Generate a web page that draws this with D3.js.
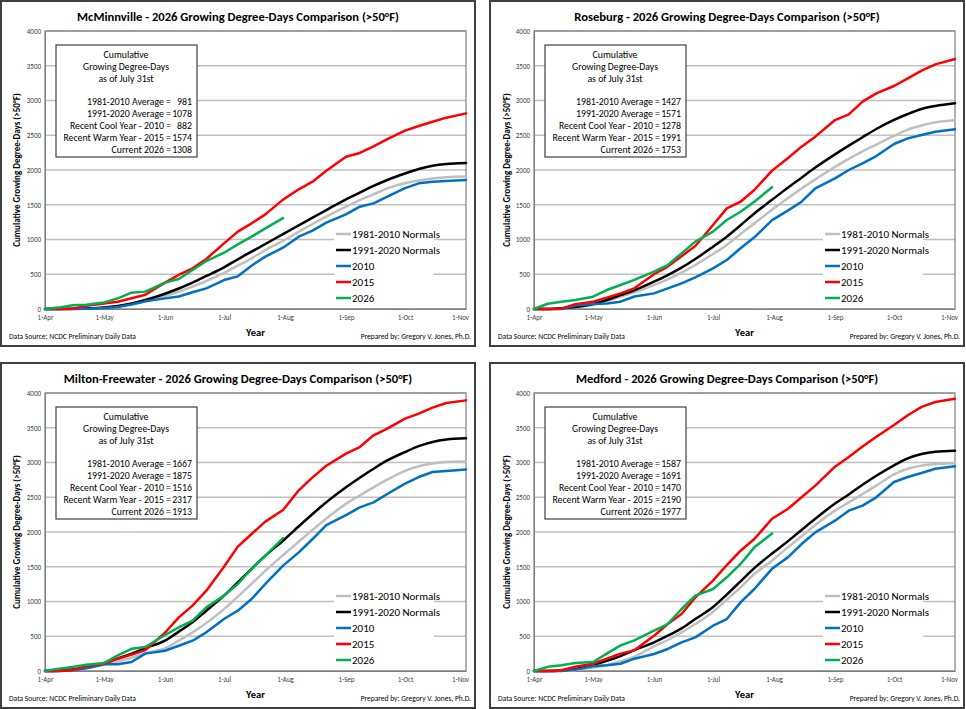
<!DOCTYPE html>
<html><head><meta charset="utf-8">
<script src="https://cdn.jsdelivr.net/npm/d3@7"></script>
<style>
body{margin:0;background:#fff;}
svg{display:block;font-family:Carlito, Lato, "Open Sans", sans-serif;}
</style></head>
<body><svg id="c" width="966" height="709"></svg>
<script>
// ---------------- DATA ----------------
const dates = ["04-01","04-08","04-15","04-22","05-01","05-08","05-15","05-22","06-01","06-08","06-15","06-22",
  "07-01","07-08","07-15","07-22","07-31","08-08","08-15","08-22","09-01","09-08","09-15","09-22",
  "10-01","10-08","10-15","10-22","11-01"];
const xTickLabels = ["1-Apr","1-May","1-Jun","1-Jul","1-Aug","1-Sep","1-Oct","1-Nov"];
const yTicks = [0,500,1000,1500,2000,2500,3000,3500,4000];
const seriesNames = ["1981-2010 Normals","1991-2020 Normals","2010","2015","2026"];
const seriesColors = ["#bfbfbf","#000000","#0070c0","#ff0000","#00b050"];
const statLabels = ["1981-2010 Average =","1991-2020 Average =","Recent Cool Year - 2010 =","Recent Warm Year - 2015 =","Current 2026 ="];

const stationNames = ["McMinnville","Roseburg","Milton-Freewater","Medford"];

const mcm1981 = [0,0,1,6,18,38,68,110,187,249,321,403,520,623,729,849,981,1113,1223,1328,1472,1568,1650,1736,1810,1850,1878,1896,1905];
const mcm1991 = [0,0,2,8,22,45,80,130,220,295,380,475,600,715,825,935,1078,1204,1314,1424,1578,1674,1770,1856,1950,2015,2060,2085,2100];
const mcm2010 = [0,0,0,5,15,30,65,110,153,180,240,297,417,470,623,753,882,1041,1127,1242,1362,1472,1520,1616,1740,1808,1832,1842,1856];
const mcm2015 = [0,0,5,45,80,105,155,205,380,490,585,720,945,1113,1233,1362,1574,1722,1832,1990,2190,2245,2340,2445,2566,2633,2695,2753,2815];
const mcm2026 = [0,20,53,60,95,153,235,250,380,432,561,690,810,930,1041,1161,1308];
const mcmStats = [981,1078,882,1574,1308];

const ros1981 = [0,0,4,25,60,115,180,240,345,427,523,633,791,921,1080,1230,1427,1595,1735,1865,2045,2160,2268,2365,2490,2580,2640,2685,2715];
const ros1991 = [0,0,10,30,72,130,200,270,393,489,595,719,897,1041,1205,1375,1571,1745,1890,2035,2225,2350,2472,2590,2720,2806,2878,2921,2959];
const ros2010 = [0,0,0,50,72,80,105,180,225,297,369,456,585,705,873,1031,1278,1415,1544,1736,1880,2000,2096,2201,2374,2455,2503,2551,2585];
const ros2015 = [0,0,5,70,105,163,225,297,500,610,760,906,1209,1448,1544,1712,1991,2168,2336,2480,2719,2801,2983,3103,3209,3319,3429,3520,3597];
const ros2026 = [0,75,105,130,177,273,345,420,537,633,801,969,1113,1280,1400,1544,1753];
const rosStats = [1427,1571,1278,1991,1753];

const mfw1981 = [0,4,15,40,90,135,190,260,326,436,556,691,890,1070,1255,1440,1667,1860,2030,2195,2405,2525,2643,2753,2880,2945,2985,3008,3015];
const mfw1991 = [0,5,20,50,115,180,250,330,436,566,700,868,1084,1276,1468,1659,1875,2082,2259,2427,2643,2780,2910,3030,3150,3235,3295,3330,3348];
const mfw2010 = [0,0,10,40,96,96,130,250,292,364,436,556,748,868,1036,1252,1516,1707,1899,2100,2244,2355,2427,2547,2695,2791,2863,2877,2901];
const mfw2015 = [0,0,10,72,105,177,235,300,550,772,940,1156,1500,1790,1971,2149,2317,2600,2786,2954,3127,3223,3391,3487,3631,3703,3789,3856,3894];
const mfw2026 = [0,34,58,90,115,225,320,345,518,628,724,916,1084,1252,1468,1659,1913];
const mfwStats = [1667,1875,1516,2317,1913];

const med1981 = [0,0,3,15,50,85,140,205,355,446,556,676,854,1026,1204,1396,1587,1779,1938,2101,2307,2427,2547,2667,2830,2910,2955,2978,2990];
const med1991 = [0,0,8,30,85,145,215,300,412,508,614,748,920,1100,1290,1480,1691,1865,2030,2190,2410,2540,2680,2810,2960,3060,3122,3155,3170];
const med2010 = [0,0,0,20,67,82,105,177,245,317,412,484,652,748,988,1180,1470,1635,1827,1995,2163,2307,2379,2499,2719,2791,2849,2911,2945];
const med2015 = [0,0,10,60,105,177,250,297,508,676,820,1060,1300,1525,1731,1899,2190,2331,2499,2667,2940,3080,3230,3370,3540,3680,3800,3870,3918];
const med2026 = [0,60,82,115,130,250,369,440,580,676,892,1084,1180,1348,1540,1779,1977];
const medStats = [1587,1691,1470,2190,1977];

// ---------------- BUILD ----------------
const parse = d3.timeParse("%m-%d");
const dateObjs = dates.map(parse);
const stations = [
  {name: stationNames[0], series:[mcm1981,mcm1991,mcm2010,mcm2015,mcm2026], stats: mcmStats},
  {name: stationNames[1], series:[ros1981,ros1991,ros2010,ros2015,ros2026], stats: rosStats},
  {name: stationNames[2], series:[mfw1981,mfw1991,mfw2010,mfw2015,mfw2026], stats: mfwStats},
  {name: stationNames[3], series:[med1981,med1991,med2010,med2015,med2026], stats: medStats}
];
const panelPos = [[1,1],[490,1],[1,363],[490,363]];
const PW = 474, PH = 345;
const m = {l:44, r:9, t:30, b:37};
const iw = PW - m.l - m.r, ih = PH - m.t - m.b;

const svg = d3.select("#c");
const x = d3.scaleTime().domain([parse("04-01"), parse("11-01")]).range([0, iw]);
const y = d3.scaleLinear().domain([0, 4000]).range([ih, 0]);
const tickDates = d3.timeMonth.range(parse("04-01"), d3.timeDay.offset(parse("11-01"),1));

stations.forEach((st, si) => {
  const [px, py] = panelPos[si];
  const g = svg.append("g").attr("transform", `translate(${px},${py})`);
  g.append("rect").attr("x",0).attr("y",0).attr("width",PW).attr("height",PH)
    .attr("fill","#fff").attr("stroke","#3f3f3f").attr("stroke-width",2);

  g.append("text").attr("x", PW/2).attr("y", 19.5).attr("text-anchor","middle")
    .attr("font-weight","bold").attr("font-size",12.6).attr("fill","#000")
    .text(`${st.name} - 2026 Growing Degree-Days Comparison (>50°F)`);

  const p = g.append("g").attr("transform", `translate(${m.l},${m.t})`);
  // gridlines
  p.selectAll("line.grid").data(yTicks).join("line").attr("class","grid")
    .attr("x1",0).attr("x2",iw).attr("y1",d=>y(d)).attr("y2",d=>y(d))
    .attr("stroke","#c0c0c0").attr("stroke-width",1.3);
  p.append("rect").attr("width",iw).attr("height",ih).attr("fill","none")
    .attr("stroke","#7f7f7f").attr("stroke-width",1.2);

  // y axis
  const ya = p.append("g").call(d3.axisLeft(y).tickValues(yTicks).tickFormat(d3.format("d")).tickSize(0).tickPadding(4));
  ya.select(".domain").attr("stroke","#7f7f7f");
  ya.selectAll("text").attr("font-size",7).attr("fill","#404040").attr("font-family","Carlito, Lato, sans-serif");
  // x axis
  const xa = p.append("g").attr("transform",`translate(0,${ih})`)
    .call(d3.axisBottom(x).tickValues(tickDates).tickFormat((d,i)=>xTickLabels[i]).tickSize(0).tickPadding(6));
  xa.select(".domain").attr("stroke","#7f7f7f");
  xa.selectAll("text").attr("font-size",7).attr("fill","#404040").attr("font-family","Carlito, Lato, sans-serif")
    .attr("dx",(d,i)=> i === xTickLabels.length-1 ? -6 : 0);

  // lines
  const line = d3.line().x((d,i)=>x(dateObjs[i])).y(d=>y(d));
  st.series.forEach((vals, k) => {
    line.curve(k < 2 ? d3.curveMonotoneX : d3.curveLinear);
    p.append("path").datum(vals).attr("d", line).attr("fill","none")
      .attr("stroke", seriesColors[k]).attr("stroke-width", 2.5)
      .attr("stroke-linejoin","round").attr("stroke-linecap","round");
  });

  // stats box
  const bx = 11, by = 14, bw = 141, bh = 112;
  const box = p.append("g").attr("transform",`translate(${bx},${by})`);
  box.append("rect").attr("width",bw).attr("height",bh).attr("fill","#fff")
    .attr("stroke","#404040").attr("stroke-width",1.2);
  ["Cumulative","Growing Degree-Days","as of July 31st"].forEach((t,i)=>{
    box.append("text").attr("x",70).attr("y",13+i*12).attr("text-anchor","middle")
      .attr("font-size",9.8).attr("fill","#000").text(t);
  });
  statLabels.forEach((t,i)=>{
    box.append("text").attr("x",115).attr("y",60+i*12).attr("text-anchor","end")
      .attr("font-size",9.8).attr("fill","#000").text(t);
    box.append("text").attr("x",136).attr("y",60+i*12).attr("text-anchor","end")
      .attr("font-size",9.8).attr("fill","#000").text(st.stats[i]);
  });

  // legend
  const lg = p.append("g").attr("transform",`translate(289,195)`);
  lg.append("rect").attr("width",100).attr("height",80).attr("fill","#fff");
  seriesNames.forEach((n,k)=>{
    const yy = 8 + k*16;
    lg.append("line").attr("x1",2).attr("x2",17).attr("y1",yy).attr("y2",yy)
      .attr("stroke",seriesColors[k]).attr("stroke-width",2.5);
    lg.append("text").attr("x",18).attr("y",yy+3.8).attr("font-size",11).attr("fill","#000").text(n);
  });

  // axis titles
  g.append("text").attr("transform",`translate(${si%2? 20:19},${m.t+ih/2}) rotate(-90)`)
    .attr("text-anchor","middle").attr("font-weight","bold").attr("font-size",9).attr("fill","#000")
    .text("Cumulative Growing Degree-Days (>50°F)");
  g.append("text").attr("x", m.l+iw/2).attr("y", 335).attr("text-anchor","middle")
    .attr("font-weight","bold").attr("font-size",10.5).attr("fill","#000").text("Year");
  g.append("text").attr("x",8).attr("y",337.5).attr("font-size",7.5).attr("fill","#000")
    .text("Data Source: NCDC Preliminary Daily Data");
  g.append("text").attr("x",PW-4).attr("y",337.5).attr("text-anchor","end").attr("font-size",7.5).attr("fill","#000")
    .text("Prepared by: Gregory V. Jones, Ph.D.");
});
</script></body></html>
